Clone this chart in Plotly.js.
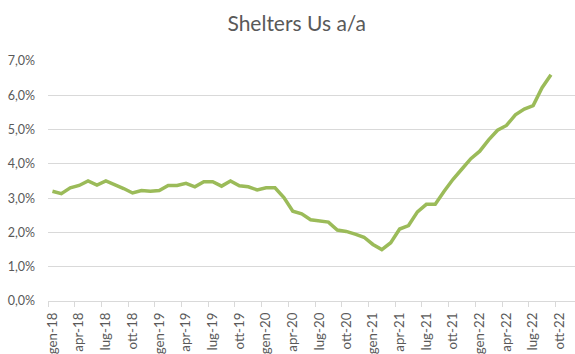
<!DOCTYPE html>
<html>
<head>
<meta charset="utf-8">
<script src="https://cdn.plot.ly/plotly-3.0.1.min.js"></script>
<style>
html,body{margin:0;padding:0;overflow:hidden;background:#fff;}
#chart{width:575px;height:354px;}
</style>
</head>
<body>
<div id="chart"></div>
<script>
// Category labels (months, Italian), gen-18 .. ott-22
var months = [
  "gen-18","feb-18","mar-18","apr-18","mag-18","giu-18","lug-18","ago-18","set-18","ott-18","nov-18","dic-18",
  "gen-19","feb-19","mar-19","apr-19","mag-19","giu-19","lug-19","ago-19","set-19","ott-19","nov-19","dic-19",
  "gen-20","feb-20","mar-20","apr-20","mag-20","giu-20","lug-20","ago-20","set-20","ott-20","nov-20","dic-20",
  "gen-21","feb-21","mar-21","apr-21","mag-21","giu-21","lug-21","ago-21","set-21","ott-21","nov-21","dic-21",
  "gen-22","feb-22","mar-22","apr-22","mag-22","giu-22","lug-22","ago-22","set-22","ott-22"
];
// Shelters US y/y, %, gen-18 .. set-22
var shelters = [
  3.2,3.13,3.3,3.37,3.5,3.38,3.5,3.4,3.28,3.15,3.22,3.2,
  3.22,3.37,3.37,3.43,3.33,3.48,3.48,3.35,3.5,3.36,3.33,3.24,
  3.3,3.3,3.02,2.62,2.54,2.37,2.34,2.3,2.07,2.03,1.95,1.86,
  1.65,1.5,1.7,2.1,2.2,2.6,2.82,2.82,3.2,3.55,3.85,4.15,
  4.37,4.7,4.98,5.12,5.43,5.6,5.7,6.22,6.6
];
var tickLabels = ["gen-18","apr-18","lug-18","ott-18","gen-19","apr-19","lug-19","ott-19",
  "gen-20","apr-20","lug-20","ott-20","gen-21","apr-21","lug-21","ott-21",
  "gen-22","apr-22","lug-22","ott-22"];
var yTicks = [0,1,2,3,4,5,6,7];
var yTickText = ["0,0%","1,0%","2,0%","3,0%","4,0%","5,0%","6,0%","7,0%"];

var xIdx = shelters.map(function(_, i){ return i; });
var labelPos = tickLabels.map(function(t){ return months.indexOf(t); });
var xRange = [-0.5, months.length + 0.7];

var font = "Lato, 'Open Sans', sans-serif";
var grey = "#595959";
var gridC = "#d9d9d9";

var data = [{
  x: xIdx,
  y: shelters,
  type: "scatter",
  mode: "lines",
  line: {color: "#9bbb59", width: 3.5, shape: "linear"},
  hoverinfo: "skip",
  showlegend: false
}];

var layout = {
  width: 575, height: 354,
  margin: {l: 48, r: 0, t: 61, b: 53},
  paper_bgcolor: "#fff", plot_bgcolor: "#fff",
  font: {family: font, color: grey, size: 12},
  title: {text: "Shelters Us a/a", x: 0.516, xanchor: "center", y: 1 - 24/354, yanchor: "middle",
          font: {family: font, size: 21, color: grey}},
  xaxis: {
    type: "linear", range: xRange,
    tickmode: "array", tickvals: labelPos, ticktext: tickLabels,
    tickangle: -90, ticks: "", showgrid: false, zeroline: false,
    showline: false, tickfont: {family: font, size: 13.3, color: grey},
    ticklabelstandoff: 8,
    minor: {tickmode: "linear", tick0: labelPos[0] - 0.5, dtick: 3, ticks: "outside", ticklen: 5,
            tickcolor: gridC, tickwidth: 1, showgrid: false}
  },
  yaxis: {
    range: [0, 7], tickmode: "array", tickvals: yTicks, ticktext: yTickText,
    showgrid: true, gridcolor: gridC, gridwidth: 1,
    zeroline: true, zerolinecolor: gridC, zerolinewidth: 1,
    showline: false, ticks: "", ticklabelstandoff: 12,
    tickfont: {family: font, size: 12.5, color: grey}
  }
};

Plotly.newPlot("chart", data, layout, {staticPlot: true, displayModeBar: false});
</script>
</body>
</html>
